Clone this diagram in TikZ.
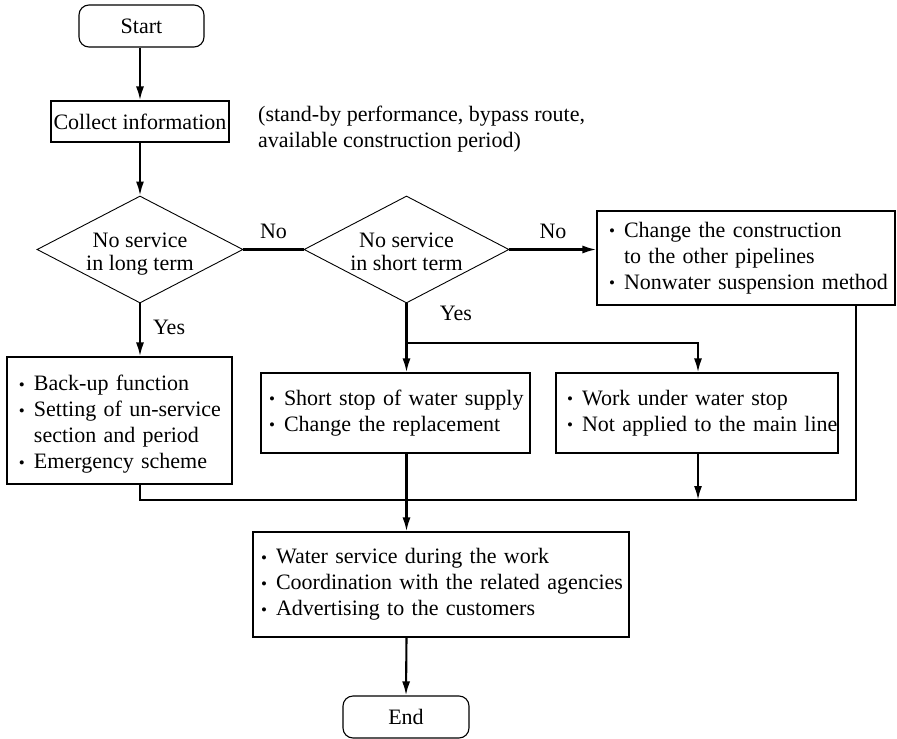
\documentclass[tikz,border=0pt]{standalone}
\usepackage{fontspec}
\setmainfont{Liberation Serif}
\usetikzlibrary{arrows.meta,shapes.geometric}

% bullet with a given left padding, and the matching indent for a continued line
\newcommand{\bl}[1]{\hspace*{#1pt}\makebox[15pt][l]{\raisebox{0.5pt}{\fontsize{17}{17}\selectfont\textbullet}}}
\newcommand{\cont}[1]{\hspace*{\dimexpr #1pt+15pt\relax}}

\tikzset{
  every node/.style={font=\fontsize{22}{26}\selectfont},
  terminal/.style={draw, line width=1.1pt, rounded corners=10pt, inner sep=0pt},
  plainbox/.style={draw, line width=1.1pt, inner sep=0pt},
  listbox/.style={draw, line width=1.1pt, inner xsep=0pt, inner ysep=0pt, align=left},
  decision/.style={draw, line width=0.9pt, shape=diamond, inner sep=0pt},
  dtext/.style={inner sep=0pt, align=center, font=\fontsize{22}{23}\selectfont},
  conn/.style={line width=2.1pt},
  arrow/.style={conn, -{Latex[length=14pt,width=8pt]}},
  lbl/.style={inner sep=0pt},
}

\begin{document}
\begin{tikzpicture}[x=1pt,y=-1pt]
\useasboundingbox (0,0) rectangle (897,739);

% terminals and steps
\node[terminal, minimum width=125pt, minimum height=42pt] (start) at (141.5,26) {Start};
\node[plainbox, minimum width=178pt, minimum height=41pt] (collect) at (140,121.5) {Collect information};
\node[lbl, anchor=west, align=left] (note) at (258,129.5)
  {(stand-by performance, bypass route,\\available construction period)};

% decisions
\node[decision, minimum width=206pt, minimum height=107pt] (d1) at (140,249.5) {};
\node[dtext, yshift=-5pt] (d1t) at (d1) {No service\\in long term};
\node[decision, minimum width=205pt, minimum height=107pt] (d2) at (406.5,249.5) {};
\node[dtext, yshift=-2pt] (d2t) at (d2) {No service\\in short term};

% measures
\node[listbox, text width=298pt, minimum height=94pt] (alt) at (746,258)
  {\bl{12}Change the construction\\\cont{12}to the other pipelines\\\bl{12}Nonwater suspension method};
\node[listbox, text width=225pt, minimum height=127pt, text height=24pt, text depth=84pt] (b1) at (119.5,420.5)
  {\bl{12}Back-up function\\\bl{12}Setting of un-service\\\cont{12}section and period\\\bl{12}Emergency scheme};
\node[listbox, text width=269pt, minimum height=80pt] (s) at (395.5,413)
  {\bl{8}Short stop of water supply\\\bl{8}Change the replacement};
\node[listbox, text width=282pt, minimum height=80pt] (w) at (697,413)
  {\bl{11}Work under water stop\\\bl{11}Not applied to the main line};
\node[listbox, text width=376pt, minimum height=105pt] (f) at (441,584.5)
  {\bl{8}Water service during the work\\\bl{8}Coordination with the related agencies\\\bl{8}Advertising to the customers};
\node[terminal, minimum width=126pt, minimum height=42pt] (end) at (406,717) {End};

% routing points
\coordinate (br) at (698,343);
\coordinate (m) at (406,500);

% connectors
\draw[arrow] (start.south -| d1) -- (d1 |- collect.north);
\draw[arrow] (collect.south -| d1) -- (d1.north);
\draw[conn] (d1.east) -- node[lbl, above=10pt] (no1) {No} (d2.west);
\draw[arrow] (d2.east) -- node[lbl, above=10pt] (no2) {No} (d2.east -| alt.west);
\draw[arrow] (d1.south) -- node[lbl, right=12pt, yshift=3pt] (yes1) {Yes} (d1.south |- b1.north);
\draw[arrow] (d2.south) -- (d2.south |- s.north);
\node[lbl] (yes2) at (456,313) {Yes};
\draw[arrow] (d2.south |- br) -| (w.north -| br);
\draw[conn] (b1.south -| d1) |- ([xshift=-40pt]alt.south east |- m) -- ([xshift=-40pt]alt.south east);
\draw[arrow] (br |- w.south) -- (br |- m);
\draw[arrow] (d2.south |- s.south) -- (d2.south |- f.north);
\draw[arrow] (d2.south |- f.south) -- (end.north);
\end{tikzpicture}
\end{document}
